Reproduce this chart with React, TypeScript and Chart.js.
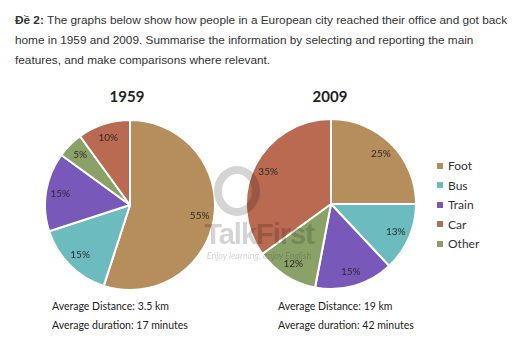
import React, { useEffect, useRef } from "react";
import { Chart, registerables } from "chart.js";

Chart.register(...registerables);

const modes = ["Foot", "Bus", "Train", "Other", "Car"];
const values1959 = [55, 15, 15, 5, 10];
const values2009 = [25, 13, 15, 12, 35];
const modeColors = ["#b58e5c", "#6cbcbf", "#7858b8", "#8aa268", "#b96a51"];
const legendOrder = ["Foot", "Bus", "Train", "Car", "Other"];
const years = ["1959", "2009"];
const distances = ["3.5 km", "19 km"];
const durations = ["17 minutes", "42 minutes"];

const FONT = "Lato, 'Open Sans', sans-serif";
const WM = "#d4d4d4";

const labelPlugin = {
  id: "sliceLabels",
  afterDatasetsDraw(chart: any) {
    const ctx = chart.ctx;
    const meta = chart.getDatasetMeta(0);
    const data = chart.data.datasets[0].data;
    ctx.save();
    ctx.font = `10px ${FONT}`;
    ctx.fillStyle = "#2b2b2b";
    ctx.textAlign = "center";
    ctx.textBaseline = "middle";
    meta.data.forEach((arc: any, i: number) => {
      const p = arc.getProps(["x", "y", "startAngle", "endAngle", "outerRadius"], true);
      const a = (p.startAngle + p.endAngle) / 2;
      const r = p.outerRadius * 0.83;
      ctx.fillText(`${data[i]}%`, p.x + Math.cos(a) * r, p.y + Math.sin(a) * r);
    });
    ctx.restore();
  },
};

function Pie({ values, left, top }: { values: number[]; left: number; top: number }) {
  const ref = useRef<HTMLCanvasElement>(null);
  useEffect(() => {
    const chart = new Chart(ref.current!, {
      type: "pie",
      data: {
        labels: modes,
        datasets: [
          {
            data: values,
            backgroundColor: modeColors,
            borderColor: "#ffffff",
            borderWidth: 2,
          },
        ],
      },
      options: {
        responsive: false,
        animation: false,
        layout: { padding: 0 },
        plugins: { legend: { display: false }, tooltip: { enabled: false } },
      },
      plugins: [labelPlugin],
    });
    return () => chart.destroy();
  }, []);
  return (
    <canvas
      ref={ref}
      width={172}
      height={172}
      style={{ position: "absolute", left, top, width: 172, height: 172 }}
    />
  );
}

export default function App() {
  const text: React.CSSProperties = { position: "absolute", fontFamily: FONT, color: "#222", whiteSpace: "nowrap" };
  const wm: React.CSSProperties = { mixBlendMode: "multiply" };
  return (
    <div style={{ position: "absolute", left: 0, top: 0, width: 512, height: 348, background: "#fff", overflow: "hidden", isolation: "isolate" }}>
      <div
        style={{
          position: "absolute",
          left: 15,
          top: 10,
          width: 497,
          fontFamily: "'Liberation Sans', Arial, sans-serif",
          fontSize: 11.8,
          lineHeight: "20px",
          color: "#333",
        }}
      >
        <b>Đề 2:</b> The graphs below show how people in a European city reached their office and got back home in 1959 and 2009. Summarise the information by selecting and reporting the main features, and make comparisons where relevant.
      </div>

      <div style={{ ...text, left: 87, top: 87, width: 80, textAlign: "center", fontSize: 15, fontWeight: 700 }}>{years[0]}</div>
      <div style={{ ...text, left: 290, top: 87, width: 80, textAlign: "center", fontSize: 15, fontWeight: 700 }}>{years[1]}</div>

      <Pie values={values1959} left={44} top={119} />
      <Pie values={values2009} left={245} top={118} />

      {legendOrder.map((m, i) => (
        <div key={m} style={{ ...text, left: 437, top: 157 + i * 19.5, fontSize: 12, lineHeight: "15px", color: "#333" }}>
          <span
            style={{
              display: "inline-block",
              width: 6,
              height: 6,
              marginRight: 5,
              verticalAlign: "middle",
              background: modeColors[modes.indexOf(m)],
            }}
          />
          <span style={{ verticalAlign: "middle" }}>{m}</span>
        </div>
      ))}

      {[0, 1].map((k) => (
        <React.Fragment key={k}>
          <div style={{ ...text, left: k === 0 ? 52 : 278, top: 299, fontSize: 10.5, lineHeight: "14px" }}>
            Average Distance: {distances[k]}
          </div>
          <div style={{ ...text, left: k === 0 ? 52 : 278, top: 318, fontSize: 10.5, lineHeight: "14px" }}>
            Average duration: {durations[k]}
          </div>
        </React.Fragment>
      ))}

      <div
        style={{
          ...wm,
          position: "absolute",
          left: 214,
          top: 166,
          width: 30,
          height: 34,
          borderRadius: "50%",
          border: `8px solid ${WM}`,
        }}
      />
      <div
        style={{
          ...text,
          ...wm,
          left: 198,
          top: 218,
          width: 122,
          textAlign: "center",
          fontFamily: "'Liberation Sans', Arial, sans-serif",
          fontSize: 29,
          fontWeight: 700,
          color: WM,
          letterSpacing: -1,
        }}
      >
        TalkFirst
      </div>
      <div
        style={{
          ...text,
          ...wm,
          left: 198,
          top: 250,
          width: 122,
          textAlign: "center",
          fontSize: 9,
          fontStyle: "italic",
          color: WM,
        }}
      >
        Enjoy learning, enjoy English
      </div>
    </div>
  );
}
